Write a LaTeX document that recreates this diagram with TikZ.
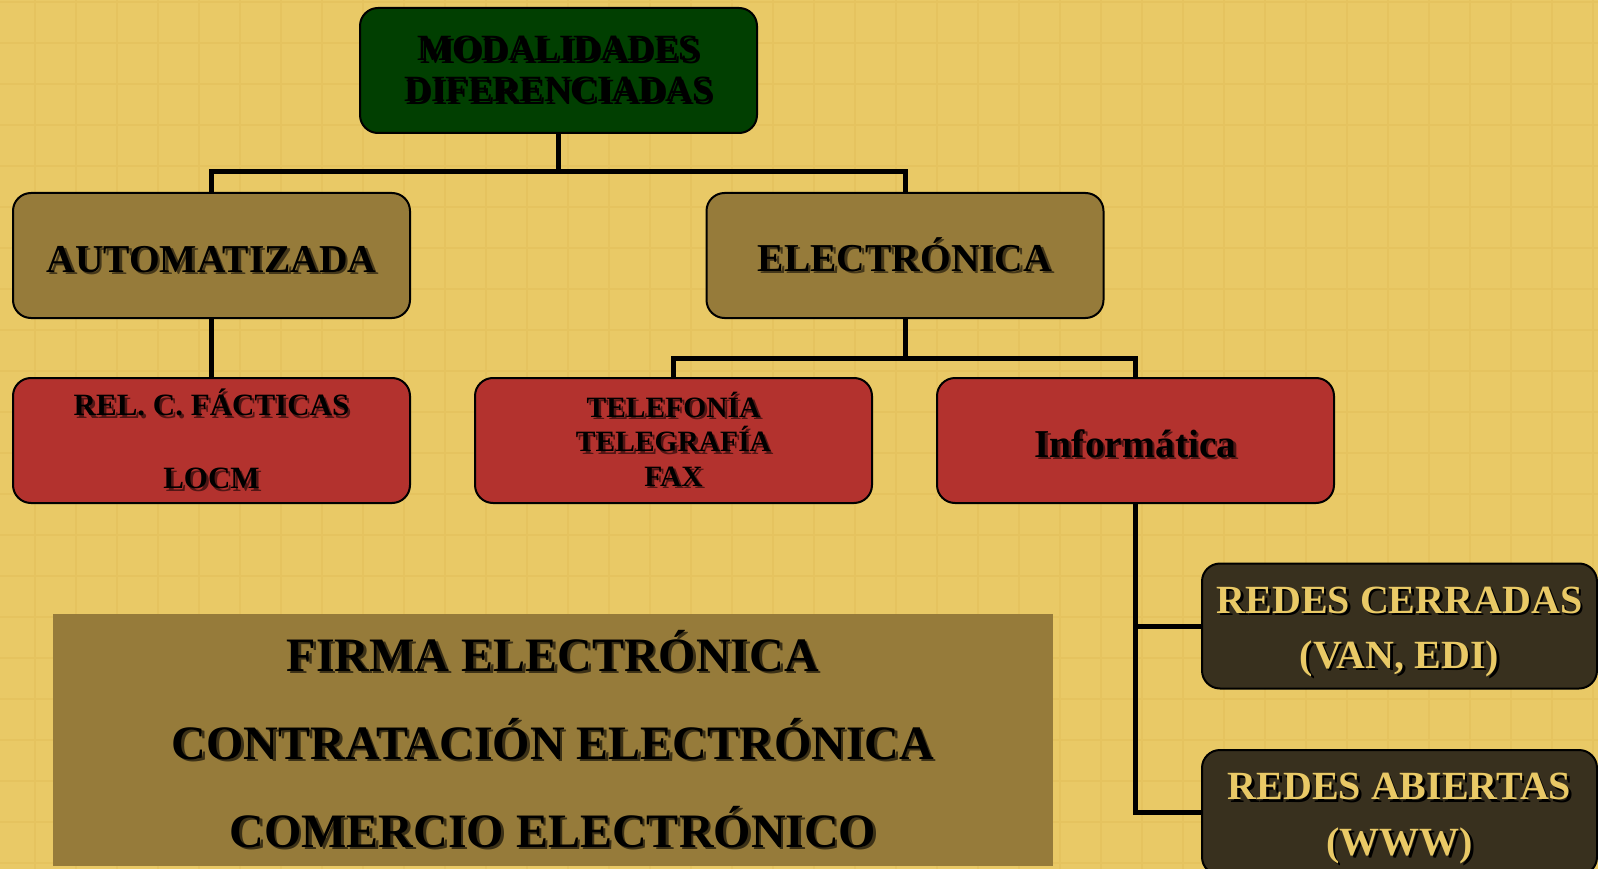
\documentclass[tikz,border=0pt]{standalone}
\usepackage{fontspec}
\setmainfont{Liberation Serif}
\usepackage{tikz}
\usetikzlibrary{positioning,calc}

\definecolor{fondo}{HTML}{E9C966}
\definecolor{rejilla}{HTML}{E5C35F}
\definecolor{verde}{HTML}{013F01}
\definecolor{pardo}{HTML}{967B3A}
\definecolor{rojo}{HTML}{B3322E}
\definecolor{oscuro}{HTML}{38301E}
\colorlet{colsombra}{black}

% texto con sombra desplazada
\newcommand\sombra[1]{\rlap{\color{colsombra}\raisebox{-2.5pt}{\kern2.5pt #1}}#1}
% puntal invisible para bajar el texto
\newcommand\puntal[1]{\rule{0pt}{#1}}

\tikzset{
	esquema/.style={x=1pt, y=-1pt, line join=miter},
	sombra color/.code={\colorlet{colsombra}{#1}},
	linea rejilla/.style={draw=rejilla, line width=1.5pt},
	enlace/.style={draw=black, line width=5pt},
	caja/.style={draw=black, line width=2pt, rounded corners=18pt,
		inner sep=0pt, outer sep=0pt,
		minimum width=397pt, minimum height=125pt,
		align=center, text=black,
		font=\bfseries\fontsize{39.5}{45}\selectfont},
	caja verde/.style={caja, fill=verde, sombra color=black},
	caja parda/.style={caja, fill=pardo, sombra color=pardo!45!black},
	caja roja/.style={caja, fill=rojo, sombra color=rojo!45!black},
	caja oscura/.style={caja, fill=oscuro, text=fondo, sombra color=black,
		font=\bfseries\fontsize{40}{55}\selectfont},
	bloque/.style={fill=pardo, inner sep=0pt, outer sep=0pt,
		minimum width=1000pt, minimum height=252pt,
		align=center, text=black, sombra color=pardo!40!black,
		font=\bfseries\fontsize{48}{88}\selectfont}
}

\begin{document}
\begin{tikzpicture}[esquema]
	\useasboundingbox (0,0) rectangle (1598,869);
	\fill[fondo] (0,0) rectangle (1598,869);
	\foreach \x in {35,76,...,1598}
		\draw[linea rejilla] (\x,0) -- (\x,869);
	\foreach \y in {2,43,...,869}
		\draw[linea rejilla] (0,\y) -- (1598,\y);

	\node[caja verde, font=\bfseries\fontsize{37}{41}\selectfont] (modal) at (558.5,70.5)
		{\sombra{MODALIDADES}\\\sombra{DIFERENCIADAS}};
	\node[caja parda] (autom) at (211.5,255.5) {\puntal{36pt}\sombra{AUTOMATIZADA}};
	\node[caja parda] (electr) at (905,255.5) {\sombra{ELECTRÓNICA}};
	\node[caja roja, below=60pt of autom, font=\bfseries\fontsize{31}{36.5}\selectfont] (rel)
		{\sombra{REL. C. FÁCTICAS}\\[36.5pt]\sombra{LOCM}};
	\node[caja roja, font=\bfseries\fontsize{29.5}{34.5}\selectfont] (tele) at (673.5,440.5)
		{\sombra{TELEFONÍA}\\\sombra{TELEGRAFÍA}\\\sombra{FAX}};
	\node[caja roja, right=65pt of tele] (info) {\puntal{36pt}\sombra{Informática}};
	\node[caja oscura, minimum width=395pt] (cerr) at (1399.5,626)
		{\puntal{41pt}\sombra{REDES CERRADAS}\\\sombra{(VAN, EDI)}};
	\node[caja oscura, minimum width=395pt, below=61.5pt of cerr] (abier)
		{\puntal{41pt}\sombra{REDES ABIERTAS}\\\sombra{(WWW)}};
	\node[bloque] (resumen) at (553,740)
		{\sombra{FIRMA ELECTRÓNICA}\\\sombra{CONTRATACIÓN ELECTRÓNICA}\\\sombra{COMERCIO ELECTRÓNICO}};

	% conectores
	\draw[enlace] (modal.south) -- ++(0,39) coordinate (nudo1);
	\draw[enlace] (autom.north) |- (nudo1) -| (electr.north);
	\draw[enlace] (autom.south) -- (rel.north);
	\draw[enlace] (electr.south) -- ++(0,40) coordinate (nudo2);
	\draw[enlace] (tele.north) |- (nudo2) -| (info.north);
	\draw[enlace] (info.south) |- (abier.west);
	\draw[enlace] (info.south |- cerr.west) -- (cerr.west);
\end{tikzpicture}
\end{document}
